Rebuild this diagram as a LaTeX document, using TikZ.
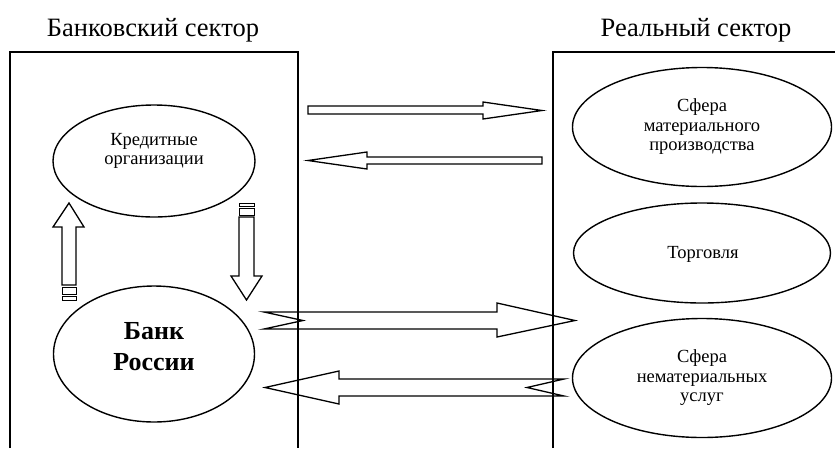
\documentclass[tikz,border=0pt]{standalone}
\usepackage{fontspec}
\setmainfont{Liberation Serif}
\usetikzlibrary{shapes.geometric}
\begin{document}
\begin{tikzpicture}[x=1pt,y=-1pt,
  frame/.style={line width=1.3pt},
  oval/.style={draw, ellipse, line width=1.4pt, inner sep=0pt},
  blockarrow/.style={draw, line width=1.3pt, line join=miter},
  stripe/.style={draw, line width=1pt},
  lbl/.style={font=\fontsize{18.5}{19.5}\selectfont, align=center, inner sep=0pt},
  boldlbl/.style={font=\fontsize{26}{31}\selectfont\bfseries, align=center, inner sep=0pt},
  title/.style={font=\fontsize{26.5}{30}\selectfont, anchor=base, inner sep=0pt}]
\useasboundingbox (0,0) rectangle (835,448);

% titles
\node[title] (t1) at (153,36) {Банковский сектор};
\node[title] (t2) at (696,36) {Реальный сектор};

% frames
\draw[frame] (10,448) -- (10,52) -- (298,52) -- (298,448);
\draw[frame] (553,448) -- (553,52) -- (835,52);

% ellipses
\node[oval, minimum width=202pt, minimum height=112pt] (kred) at (154,161) {};
\node[lbl] (kredt) at (154,151) {Кредитные\\организации};
\node[oval, minimum width=201pt, minimum height=136pt] (bank) at (154,354) {};
\node[boldlbl] (bankt) at (154,347) {Банк\\России};
\node[oval, minimum width=259pt, minimum height=119pt] (mat) at (702,127) {};
\node[lbl] (matt) at (702,127) {Сфера\\материального\\производства};
\node[oval, minimum width=257pt, minimum height=100pt] (torg) at (702,253) {};
\node[lbl] (torgt) at (703,254) {Торговля};
\node[oval, minimum width=259pt, minimum height=119pt] (nemat) at (702,378) {};
\node[lbl] (nematt) at (702,378) {Сфера\\нематериальных\\услуг};

% thin horizontal arrows
\draw[blockarrow] (308,106) -- (483,106) -- (483,102) -- (542,110.5) -- (483,119) -- (483,114) -- (308,114) -- cycle;
\draw[blockarrow] (542,157) -- (367,157) -- (367,152) -- (308,160.5) -- (367,169) -- (367,164) -- (542,164) -- cycle;

% big notched arrows
\draw[blockarrow] (264,312) -- (497,312) -- (497,303) -- (575,320.5) -- (497,337) -- (497,329) -- (264,329) -- (303,320.5) -- cycle;
\draw[blockarrow] (564,379) -- (339,379) -- (339,371) -- (265,387.5) -- (339,404) -- (339,396) -- (564,396) -- (527,387.5) -- cycle;

% vertical striped arrows
\draw[blockarrow] (62,285) -- (62,227) -- (53,227) -- (69,203) -- (84,227) -- (76,227) -- (76,285) -- cycle;
\draw[stripe] (62,287.5) rectangle (76,294);
\draw[stripe] (62,296.5) rectangle (76,300);

\draw[blockarrow] (239,217) -- (239,276) -- (231,276) -- (246.5,300) -- (262,276) -- (254,276) -- (254,217) -- cycle;
\draw[stripe] (239,208.5) rectangle (254,215);
\draw[stripe] (239,203) rectangle (254,206.5);
\end{tikzpicture}
\end{document}
